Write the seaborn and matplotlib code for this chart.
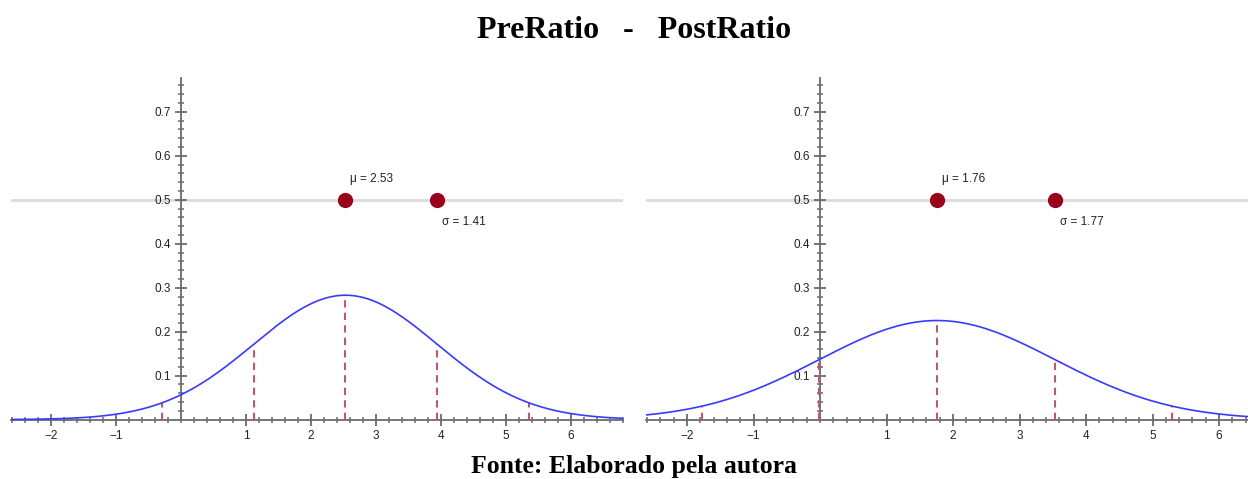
import numpy as np
import pandas as pd
import matplotlib
matplotlib.use("Agg")
import matplotlib.pyplot as plt
import seaborn as sns
from matplotlib.ticker import FixedLocator, NullFormatter

# ---- data ----
panel_names = ["PreRatio", "PostRatio"]
means = [2.53, 1.76]
sds = [1.41, 1.77]
point_level = 0.5
sigma_multiples = [-2, -1, 0, 1, 2]
x_tick_values = [-2, -1, 1, 2, 3, 4, 5, 6]
y_tick_values = [0.1, 0.2, 0.3, 0.4, 0.5, 0.6, 0.7]
title_text = "PreRatio   -   PostRatio"
footer_text = "Fonte: Elaborado pela autora"

# ---- layout ----
W, H = 1248, 479
x_limits = [(-2.615, 6.80), (-2.617, 6.436)]
y_limits = (-0.06, 0.777)
panel_px = [(11, 623), (646, 1248)]   # left, right pixel edges
y_top_px, y_bot_px = 78, 446

sns.set_theme(style="white")
plt.rcParams["font.family"] = ["Liberation Sans", "DejaVu Sans"]

fig = plt.figure(figsize=(W / 100, H / 100), dpi=100)

axis_col = "#6b6b6b"
curve_col = "#3a3aff"
dash_col = "#bb5a6e"
point_col = "#99001a"

def pdf(x, m, s):
    return np.exp(-0.5 * ((x - m) / s) ** 2) / (s * np.sqrt(2 * np.pi))

for i in range(2):
    l, r = panel_px[i]
    ax = fig.add_axes([l / W, (H - y_bot_px) / H, (r - l) / W, (y_bot_px - y_top_px) / H])
    ax.set_facecolor("none")
    m, s = means[i], sds[i]
    xmin, xmax = x_limits[i]

    ax.axhline(point_level, color="#dcdcdc", lw=2, zorder=0.5)

    xs = np.linspace(xmin, xmax, 500)
    df = pd.DataFrame({"x": xs, "y": pdf(xs, m, s)})
    sns.lineplot(data=df, x="x", y="y", ax=ax, color=curve_col, lw=1.2, zorder=3)

    for k in sigma_multiples:
        xv = m + k * s
        ax.plot([xv, xv], [0, pdf(xv, m, s)], color=dash_col, lw=1.5,
                linestyle=(0, (3.5, 2.5)), zorder=2)

    pts = pd.DataFrame({"x": [m, m + s], "y": [point_level, point_level]})
    sns.scatterplot(data=pts, x="x", y="y", ax=ax, color=point_col, s=120,
                    edgecolor=point_col, linewidth=0, zorder=4)
    ax.annotate(f"\u03bc = {m:.2f}", (m, point_level), xytext=(5, 21),
                textcoords="offset pixels", fontsize=8.5, color="#222222",
                va="center", ha="left")
    ax.annotate(f"\u03c3 = {s:.2f}", (m + s, point_level), xytext=(5, -22),
                textcoords="offset pixels", fontsize=8.5, color="#222222",
                va="center", ha="left")

    ax.set_xlim(xmin, xmax)
    ax.set_ylim(*y_limits)
    ax.set_xlabel("")
    ax.set_ylabel("")

    for sp in ["top", "right"]:
        ax.spines[sp].set_visible(False)
    ax.spines["left"].set_position("zero")
    ax.spines["bottom"].set_position("zero")
    ax.spines["left"].set_bounds(0, y_limits[1])
    for sp in ["left", "bottom"]:
        ax.spines[sp].set_color(axis_col)
        ax.spines[sp].set_linewidth(1.3)
        ax.spines[sp].set_zorder(1.5)

    ax.xaxis.set_major_locator(FixedLocator(x_tick_values))
    ax.yaxis.set_major_locator(FixedLocator(y_tick_values))
    ax.set_xticklabels([str(v) if v >= 0 else "\u2212" + str(-v) for v in x_tick_values])
    ax.set_yticklabels([f"{v:.1f}" for v in y_tick_values])
    xminor = [round(v, 2) for v in np.arange(-2.6, 6.81, 0.2)]
    ax.xaxis.set_minor_locator(FixedLocator(xminor))
    ax.yaxis.set_minor_locator(FixedLocator(list(np.arange(0.02, 0.775, 0.02))))
    ax.xaxis.set_minor_formatter(NullFormatter())
    ax.yaxis.set_minor_formatter(NullFormatter())
    ax.tick_params(which="both", bottom=True, left=True, top=False, right=False)
    ax.tick_params(which="major", direction="inout", length=9, width=1.3,
                   color=axis_col, labelsize=8.5, labelcolor="#222222")
    ax.tick_params(which="minor", direction="inout", length=5, width=1.1,
                   color=axis_col)
    ax.tick_params(axis="y", which="major", pad=3)
    ax.tick_params(axis="x", which="major", pad=3)
    ax.grid(False)

fig.text(634 / W, 1 - 30 / H, title_text, ha="center", va="center", color="black",
         fontsize=23, fontweight="bold", family=["Liberation Serif", "DejaVu Serif"])
fig.text(634 / W, 1 - 466 / H, footer_text, ha="center", va="center", color="black",
         fontsize=18.5, fontweight="bold", family=["Liberation Serif", "DejaVu Serif"])

fig.savefig("out.png", dpi=100)
